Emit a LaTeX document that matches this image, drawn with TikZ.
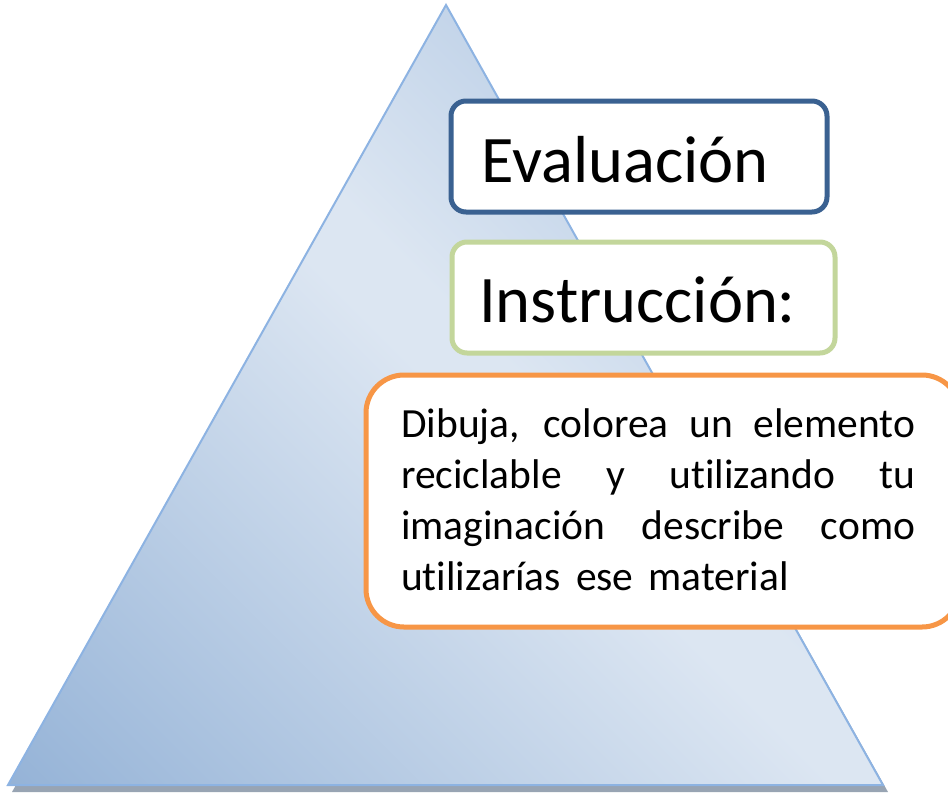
\documentclass[tikz,border=0pt]{standalone}
\usepackage{fontspec}
\setmainfont{Carlito}[Ligatures={NoCommon}]
\definecolor{tridark}{HTML}{95B3D7}
\definecolor{trilight}{HTML}{DCE6F2}
\definecolor{trimid}{HTML}{BDD0E7}
\definecolor{trideep}{HTML}{A9C1DF}
\definecolor{triedge}{HTML}{8DB3E2}
\definecolor{shadowgrey}{HTML}{98A4B3}
\definecolor{boxblue}{HTML}{3A6191}
\definecolor{boxgreen}{HTML}{C3D69B}
\definecolor{boxorange}{HTML}{F79646}
\pgfdeclarehorizontalshading{trishade}{100bp}{color(0bp)=(tridark); color(14.6bp)=(tridark); color(50bp)=(trilight); color(54bp)=(trilight); color(70bp)=(trimid); color(100bp)=(trideep)}
\tikzset{
  labelbox/.style={line width=5pt, fill=white, rounded corners=15pt},
  bigtext/.style={font=\fontsize{66.5}{78}\selectfont, anchor=base west, inner sep=0pt},
  bodytext/.style={font=\fontsize{41.5}{51}\selectfont, text width=514pt, align=justify, anchor=north west, inner sep=0pt},
}
\begin{document}
\begin{tikzpicture}[x=1pt,y=-1pt]
\useasboundingbox (0,0) rectangle (948,793);
% shadow
\fill[shadowgrey] (450,12) -- (12,792) -- (888,792) -- cycle;
% triangle
\coordinate (apex) at (446,5);
\coordinate (bl) at (8,785);
\coordinate (br) at (883,785);
\shade[shading=trishade, shading angle=45] (apex) -- (bl) -- (br) -- cycle;
\draw[triedge, line width=2pt, line join=miter] (apex) -- (bl) -- (br) -- cycle;
% boxes
\draw[labelbox, draw=boxblue] (451,101) rectangle (827,212);
\node[bigtext] (eval) at (481,182) {Evaluación};
\draw[labelbox, draw=boxgreen] (452,242) rectangle (835,353);
\node[bigtext] (instr) at (479,322) {Instrucción:};
\draw[labelbox, draw=boxorange, rounded corners=38pt] (366,375) rectangle (960,627);
\node[bodytext] (body) at (401,408) {Dibuja, colorea un elemento\linebreak reciclable y utilizando tu\linebreak imaginación describe como\linebreak {\spaceskip=15pt\relax utilizarías ese material}};
\end{tikzpicture}
\end{document}
